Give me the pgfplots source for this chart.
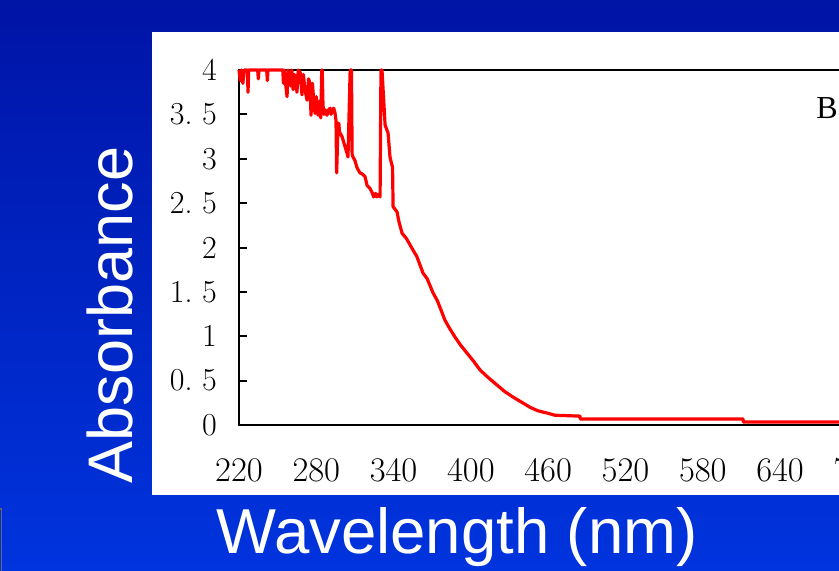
\documentclass[border=0pt]{standalone}
\usepackage{fontspec}
\usepackage{pgfplots}
\pgfplotsset{compat=1.18}
\newfontfamily\arialfont{Liberation Sans}
\newfontfamily\timesfont{Liberation Serif}
\definecolor{bgtop}{RGB}{0,20,166}
\definecolor{bgbot}{RGB}{0,52,222}

\begin{document}
\begin{tikzpicture}[x=0.5pt,y=-0.5pt]
  \useasboundingbox (0,0) rectangle (839,571);
  \clip (0,0) rectangle (839,571);
  \shade[top color=bgtop, bottom color=bgbot] (0,0) rectangle (839,571);
  \fill[white] (152,32) rectangle (900,495);
  \draw[gray!80!black, line width=0.8pt] (0,509) -- (1.5,509) -- (1.5,571);
  \coordinate (axorig) at (239,425);

  \begin{axis}[
      at={(axorig)}, anchor=south west,
      scale only axis,
      width=373.6pt, height=177.5pt,
      xmin=220, xmax=800, ymin=0, ymax=4,
      xtick={220,280,...,760},
      ytick={0,0.5,...,4},
      yticklabels={0,0.\ 5,1,1.\ 5,2,2.\ 5,3,3.\ 5,4},
      tick align=inside,
      major tick length=4pt,
      xtick style={draw=none},
      ytick style={black, line width=1pt},
      axis line style={black, line width=1.3pt},
      ticklabel style={font=\fontsize{16}{16}\selectfont},
      yticklabel style={xshift=-7.5pt},
      xticklabel style={yshift=-13.5pt},
      clip=false,
    ]
    \addplot[red, line width=1.6pt, line join=round] coordinates {
      (220,4.0) (221,3.88) (222,4.0) (223,3.85) (224,4.0) (226.5,4.0)
      (227,3.75) (227.5,4.0) (234.5,4.0) (235,3.9) (235.5,4.0) (241.5,4.0)
      (242,3.88) (242.5,4.0) (254,4.0) (254.5,3.85) (255,4.0) (257.3,3.70)
      (258,4.0) (260,3.82) (261,4.0) (262,3.78) (263,3.95) (265,3.75)
      (266,4.0) (267.5,3.97) (268.9,3.72) (270,3.95) (271,3.8) (272.8,3.66)
      (274,3.9) (275.1,3.85) (275.9,3.49) (277,3.85) (277.5,3.75) (279,3.51)
      (280,3.7) (281.3,3.49) (282.5,3.65) (283.5,3.46) (284.2,4.0) (284.6,4.0)
      (285.2,3.6) (286,3.5) (287,3.55) (288.3,3.49) (289.5,3.55) (290.7,3.57)
      (291.5,3.5) (292.5,3.55) (293.5,3.57) (294.5,3.52) (295.3,3.43) (295.8,2.84)
      (296.9,3.4) (297.5,3.4) (298,3.3) (300,3.25) (302,3.15) (303.9,3.06)
      (304.6,3.02) (306.3,4.0) (307.3,4.0) (307.8,3.05) (308.5,3.02) (310,2.98)
      (311.6,2.9) (313.9,2.84) (315.5,2.83) (317.8,2.8) (319.4,2.7) (321.5,2.67)
      (323.3,2.62) (324.5,2.57) (326,2.61) (327,2.57) (328.5,2.6) (329.5,2.57)
      (330.2,4.0) (331,4.0) (333.4,3.38) (335.7,3.29) (337.2,3.02) (339.2,2.9)
      (339.6,2.46) (342.7,2.4) (344,2.3) (346.6,2.16) (350,2.1) (355.1,1.97)
      (358,1.9) (362.9,1.71) (366,1.65) (370.6,1.49) (374,1.4) (379.9,1.18)
      (383,1.1) (387.7,0.99) (392,0.9) (397,0.81) (402,0.72) (407.1,0.62)
      (413,0.54) (420.3,0.45) (426,0.38) (432.7,0.315) (439,0.26) (445.9,0.2)
      (452,0.16) (459.1,0.135) (465.3,0.11) (484.7,0.10) (484.8,0.068)
      (611.3,0.068) (611.4,0.034) (800,0.034)
    };
    \node[font=\timesfont\fontsize{16}{16}\selectfont] at (axis cs:676.5,3.57) {B};
  \end{axis}

  \node[rotate=90, text=white, font=\arialfont\fontsize{31.5}{31.5}\selectfont]
    at (110,315) {Absorbance};
  \node[anchor=base, text=white, font=\arialfont\fontsize{31.75}{31.75}\selectfont]
    at (457,553) {Wavelength (nm)};
\end{tikzpicture}
\end{document}
